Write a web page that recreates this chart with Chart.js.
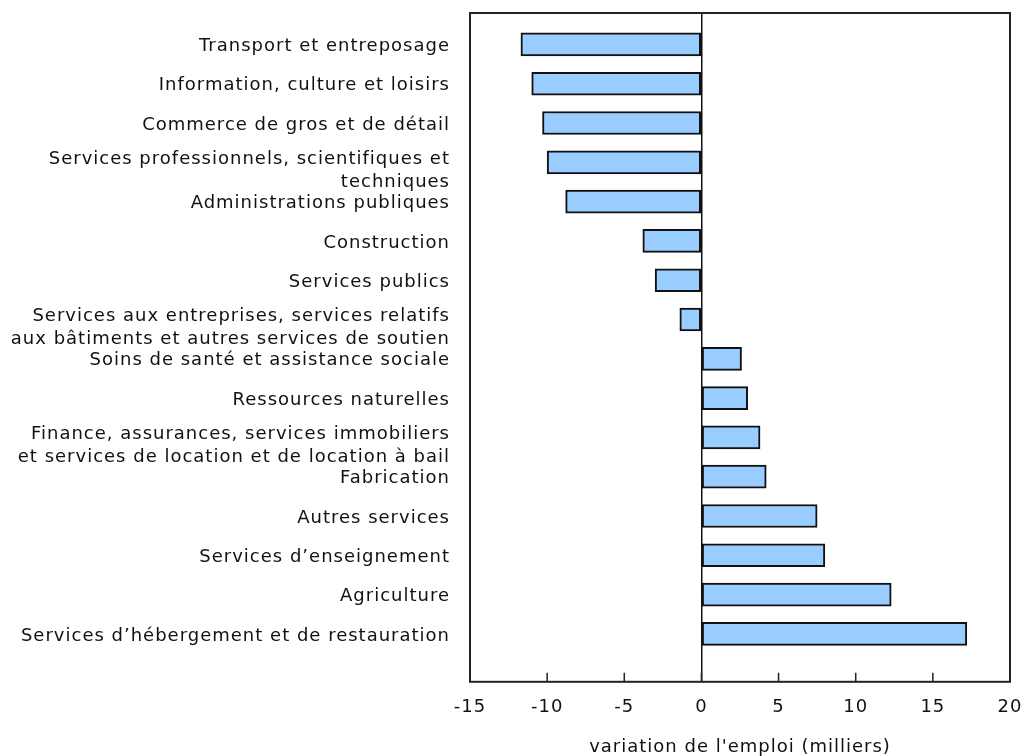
<!DOCTYPE html>
<html>
<head>
<meta charset="utf-8">
<script src="https://cdn.jsdelivr.net/npm/chart.js@4"></script>
<style>
  html, body { margin: 0; padding: 0; background: #fff; }
  #wrap { width: 1024px; height: 756px; }
</style>
</head>
<body>
<div id="wrap"><canvas id="chart1"></canvas></div>
<script>
// Industries, top to bottom
const categories = [
    "Transport et entreposage",
    "Information, culture et loisirs",
    "Commerce de gros et de détail",
    "Services professionnels, scientifiques et\ntechniques",
    "Administrations publiques",
    "Construction",
    "Services publics",
    "Services aux entreprises, services relatifs\naux bâtiments et autres services de soutien",
    "Soins de santé et assistance sociale",
    "Ressources naturelles",
    "Finance, assurances, services immobiliers\net services de location et de location à bail",
    "Fabrication",
    "Autres services",
    "Services d’enseignement",
    "Agriculture",
    "Services d’hébergement et de restauration"
];

// Employment change, thousands
const changes = [-11.7, -11.0, -10.3, -10.0, -8.8, -3.8, -3.0, -1.4, 2.6, 3.0, 3.8, 4.2, 7.5, 8.0, 12.3, 17.2];

const xTicks = [-15, -10, -5, 0, 5, 10, 15, 20];
const xTitle = "variation de l'emploi (milliers)";

const FONT = "'DejaVu Sans', Verdana, sans-serif";

document.addEventListener("DOMContentLoaded", () => {
    const chartCanvas = document.getElementById("chart1");

    // Frame, inner tick marks and category labels
    const framePlugin = {
        id: "frame",
        beforeDraw(chart) {
            // wider text, closer to Verdana
            chart.ctx.letterSpacing = "1px";
        },
        afterDraw(chart) {
            const ctx = chart.ctx;
            const area = chart.chartArea;
            const x = chart.scales.x;
            const y = chart.scales.y;
            ctx.save();

            // tick marks pointing up into the plot
            ctx.strokeStyle = "#222";
            ctx.lineWidth = 1.5;
            xTicks.forEach(v => {
                const px = x.getPixelForValue(v);
                ctx.beginPath();
                ctx.moveTo(px, area.bottom);
                ctx.lineTo(px, area.bottom - 9);
                ctx.stroke();
            });

            ctx.strokeStyle = "#222";
            ctx.lineWidth = 2;
            ctx.strokeRect(area.left, area.top, area.right - area.left, area.bottom - area.top);

            // labels at the left
            ctx.fillStyle = "#111";
            ctx.font = "18px " + FONT;
            ctx.letterSpacing = "1px";
            ctx.textAlign = "right";
            ctx.textBaseline = "middle";
            categories.forEach((label, i) => {
                const cy = y.getPixelForValue(i);
                const lines = label.split("\n");
                if (lines.length === 1) {
                    ctx.fillText(lines[0], 450, cy + 2);
                } else {
                    ctx.fillText(lines[0], 450, cy - 3);
                    ctx.fillText(lines[1], 450, cy + 20);
                }
            });
            ctx.restore();
        }
    };

    new Chart(chartCanvas.getContext("2d"), {
        type: "bar",
        data: {
            datasets: [{
                data: changes.map((v, i) => ({ x: v, y: i })),
                backgroundColor: "#99ccff",
                borderColor: "#111",
                borderWidth: 2,
                borderSkipped: false,
                barThickness: 23
            }]
        },
        options: {
            indexAxis: "y",
            responsive: true,
            maintainAspectRatio: false,
            animation: false,
            layout: {
                padding: { left: 470, right: 14, top: 13, bottom: 0 }
            },
            plugins: {
                legend: { display: false },
                tooltip: { enabled: false }
            },
            scales: {
                y: {
                    type: "linear",
                    display: false,
                    reverse: true,
                    offset: false,
                    min: -0.8,
                    max: 16.22
                },
                x: {
                    type: "linear",
                    min: -15,
                    max: 20,
                    afterBuildTicks: axis => {
                        axis.ticks = xTicks.map(v => ({ value: v }));
                    },
                    afterFit: axis => {
                        axis.paddingLeft = 0;
                        axis.paddingRight = 0;
                    },
                    border: { display: false },
                    grid: {
                        drawTicks: false,
                        color: c => (c.tick && c.tick.value === 0 ? "#111" : "rgba(0,0,0,0)"),
                        lineWidth: 1.5
                    },
                    ticks: {
                        color: "#111",
                        padding: 15,
                        font: { family: FONT, size: 18 },
                        maxRotation: 0
                    },
                    title: {
                        display: true,
                        text: xTitle,
                        color: "#111",
                        font: { family: FONT, size: 18 },
                        padding: { top: 3, bottom: -2 }
                    }
                }
            }
        },
        plugins: [framePlugin]
    });
});
</script>
</body>
</html>
